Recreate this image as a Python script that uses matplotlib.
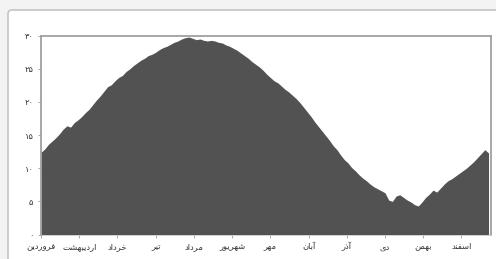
import matplotlib
matplotlib.use("Agg")
import matplotlib.pyplot as plt
from matplotlib.patches import FancyBboxPatch
import numpy as np

# daily mean temperature, one reading every 3 days (day 0 = 1 Farvardin)
temps = [12.4, 12.9, 13.6, 14.1, 14.6, 15.2, 15.9, 16.4, 16.2, 16.9, 17.3, 17.8, 18.4, 18.9, 19.6, 20.3,
         20.9, 21.6, 22.3, 22.6, 23.2, 23.7, 24.0, 24.6, 25.0, 25.5, 25.9, 26.3, 26.6, 27.0, 27.2, 27.5,
         27.9, 28.2, 28.4, 28.7, 29.0, 29.2, 29.5, 29.7, 29.8, 29.6, 29.4, 29.5, 29.3, 29.2, 29.3, 29.2,
         29.0, 28.9, 28.6, 28.4, 28.1, 27.8, 27.4, 27.0, 26.6, 26.1, 25.7, 25.3, 24.8, 24.2, 23.7, 23.2,
         22.9, 22.4, 21.9, 21.5, 21.0, 20.5, 19.9, 19.2, 18.5, 17.8, 17.0, 16.3, 15.6, 14.9, 14.2, 13.4,
         12.8, 12.0, 11.3, 10.8, 10.1, 9.6, 9.0, 8.5, 8.1, 7.6, 7.2, 6.9, 6.6, 6.3, 5.2, 5.0,
         5.8, 6.0, 5.6, 5.2, 4.9, 4.5, 4.3, 4.9, 5.6, 6.1, 6.7, 6.4, 7.0, 7.6, 8.1, 8.4,
         8.8, 9.2, 9.6, 10.0, 10.5, 11.0, 11.6, 12.2, 12.8, 12.3]
step = 3
months = ["فروردین", "اردیبهشت", "خرداد", "تیر", "مرداد", "شهریور",
          "مهر", "آبان", "آذر", "دی", "بهمن", "اسفند"]
month_ticks = [0, 31, 62, 93, 124, 155, 186, 217, 248, 279, 310, 341]
yticks = [0, 5, 10, 15, 20, 25, 30]

# matplotlib has no Arabic shaping, so pick presentation forms by hand
FORMS = {
    "ا": (0xFE8D, 0xFE8E), "آ": (0xFE81, 0xFE82), "د": (0xFEA9, 0xFEAA),
    "ذ": (0xFEAB, 0xFEAC), "ر": (0xFEAD, 0xFEAE), "و": (0xFEED, 0xFEEE),
    "ب": (0xFE8F, 0xFE90, 0xFE91, 0xFE92), "ت": (0xFE95, 0xFE96, 0xFE97, 0xFE98),
    "خ": (0xFEA5, 0xFEA6, 0xFEA7, 0xFEA8), "س": (0xFEB1, 0xFEB2, 0xFEB3, 0xFEB4),
    "ش": (0xFEB5, 0xFEB6, 0xFEB7, 0xFEB8), "ف": (0xFED1, 0xFED2, 0xFED3, 0xFED4),
    "م": (0xFEE1, 0xFEE2, 0xFEE3, 0xFEE4), "ن": (0xFEE5, 0xFEE6, 0xFEE7, 0xFEE8),
    "ه": (0xFEE9, 0xFEEA, 0xFEEB, 0xFEEC), "ی": (0xFBFC, 0xFBFD, 0xFBFE, 0xFBFF),
}


def shape(s):
    out = []
    for i, c in enumerate(s):
        f = FORMS.get(c)
        if f is None:
            out.append(c)
            continue
        prev = s[i - 1] if i > 0 else None
        nxt = s[i + 1] if i + 1 < len(s) else None
        jp = prev in FORMS and len(FORMS[prev]) == 4
        jn = len(f) == 4 and nxt in FORMS
        if jp and jn:
            g = f[3]
        elif jp:
            g = f[1]
        elif jn:
            g = f[2]
        else:
            g = f[0]
        out.append(chr(g))
    return "".join(reversed(out))


def fa_digits(n):
    return "".join(chr(0x06F0 + int(d)) for d in str(n))


plt.rcParams["font.family"] = ["DejaVu Sans"]

fig = plt.figure(figsize=(4.96, 2.59), dpi=100, facecolor="#f3f3f3")

# white card behind the chart
bg = fig.add_axes([0, 0, 1, 1], zorder=0)
bg.set_xlim(0, 496)
bg.set_ylim(259, 0)
bg.axis("off")
bg.add_patch(FancyBboxPatch((8, 10), 520, 280, boxstyle="round,pad=0,rounding_size=4",
                            facecolor="white", edgecolor="#c4c4c4", linewidth=1.2))

ax = fig.add_axes([41 / 496, 24.5 / 259, 450 / 496, 198.8 / 259], zorder=1)
ax.patch.set_facecolor("white")
days = np.arange(len(temps)) * step
ax.fill_between(days, 0, temps, color="#525252", linewidth=0)
ax.set_xlim(0, 365)
ax.set_ylim(0, 30)

ax.set_yticks(yticks)
ax.set_yticklabels([fa_digits(v) for v in yticks], fontsize=6, color="#333333")
ax.set_xticks(month_ticks)
ax.set_xticklabels([shape(m) for m in months], fontsize=6, color="#333333")
ax.tick_params(axis="both", length=2.5, width=0.6, color="#999999", pad=3)

for side in ["top", "left", "right"]:
    ax.spines[side].set_color("#a0a0a0")
    ax.spines[side].set_linewidth(1.3)
ax.spines["bottom"].set_color("#c8c8c8")
ax.spines["bottom"].set_linewidth(0.6)

fig.savefig("out.png", dpi=100, facecolor=fig.get_facecolor())
